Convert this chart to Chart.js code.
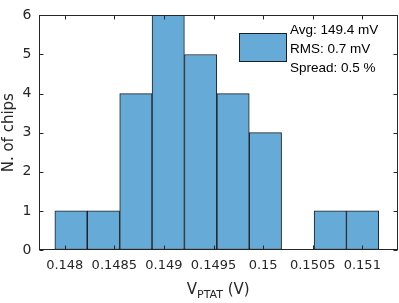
<!DOCTYPE html>
<html>
<head>
<meta charset="utf-8">
<script src="https://cdn.jsdelivr.net/npm/chart.js@4"></script>
<style>
  html, body { margin: 0; padding: 0; background: #fff; }
  #wrap { width: 399px; height: 303px; }
</style>
</head>
<body>
<div id="wrap"><canvas id="myChart" width="399" height="303"></canvas></div>
<script>
// histogram data
const binCenters = [0.148063, 0.148390, 0.148717, 0.149043, 0.149370, 0.149697, 0.150023, 0.150350, 0.150677, 0.151003];
const counts = [1, 1, 4, 6, 5, 4, 3, 0, 1, 1];
const xTicks = [0.148, 0.1485, 0.149, 0.1495, 0.15, 0.1505, 0.151];
const yTicks = [0, 1, 2, 3, 4, 5, 6];
const legendLines = ['Avg: 149.4 mV', 'RMS: 0.7 mV', 'Spread: 0.5 %'];

const axisColor = '#262626';
const barFill = 'rgb(102,170,215)';
const barEdge = '#1e1e1e';

// box round the axes + inward ticks (matlab style)
const frame = {
  id: 'frame',
  afterDatasetsDraw(chart) {
    const { ctx, chartArea: a, scales } = chart;
    const l = Math.round(a.left) + 0.5, r = Math.round(a.right) - 0.5;
    const t = Math.round(a.top) + 0.5, b = Math.round(a.bottom) - 0.5;
    const len = 4;
    ctx.save();
    ctx.strokeStyle = axisColor;
    ctx.lineWidth = 1;
    ctx.strokeRect(l, t, r - l, b - t);
    ctx.beginPath();
    xTicks.forEach(v => {
      const x = Math.round(scales.x.getPixelForValue(v)) + 0.5;
      ctx.moveTo(x, b); ctx.lineTo(x, b - len);
      ctx.moveTo(x, t); ctx.lineTo(x, t + len);
    });
    yTicks.forEach(v => {
      const y = Math.round(scales.y.getPixelForValue(v)) + 0.5;
      ctx.moveTo(l, y); ctx.lineTo(l + len, y);
      ctx.moveTo(r, y); ctx.lineTo(r - len, y);
    });
    ctx.stroke();
    ctx.restore();
  },
  afterDraw(chart) {
    const { ctx, chartArea: a } = chart;
    ctx.save();
    // x title with subscript
    ctx.fillStyle = axisColor;
    ctx.textBaseline = 'alphabetic';
    const big = '15px "DejaVu Sans"', small = '11px "DejaVu Sans"';
    ctx.font = big; const w1 = ctx.measureText('V').width;
    ctx.font = small; const w2 = ctx.measureText('PTAT').width;
    ctx.font = big; const w3 = ctx.measureText(' (V)').width;
    let x = (a.left + a.right) / 2 - (w1 + w2 + w3) / 2;
    const base = 294;
    ctx.font = big; ctx.fillText('V', x, base); x += w1;
    ctx.font = small; ctx.fillText('PTAT', x, base + 4); x += w2;
    ctx.font = big; ctx.fillText(' (V)', x, base);

    // legend box
    ctx.fillStyle = barFill;
    ctx.fillRect(239.5, 33.5, 47, 28);
    ctx.strokeStyle = barEdge;
    ctx.lineWidth = 1;
    ctx.strokeRect(239.5, 33.5, 47, 28);
    ctx.fillStyle = '#000';
    ctx.font = '13.5px "Liberation Sans"';
    ctx.textBaseline = 'middle';
    legendLines.forEach((s, i) => ctx.fillText(s, 290, 30 + i * 19));
    ctx.restore();
  }
};

const ctx = document.getElementById('myChart').getContext('2d');
const myChart = new Chart(ctx, {
  type: 'bar',
  data: {
    datasets: [{
      data: binCenters.map((c, i) => ({ x: c, y: counts[i] })),
      backgroundColor: barFill,
      borderColor: barEdge,
      borderWidth: 1,
      barPercentage: 1,
      categoryPercentage: 1,
      borderSkipped: false
    }]
  },
  options: {
    responsive: false,
    animation: false,
    layout: { padding: { top: 5, right: 1, left: 0, bottom: 0 } },
    plugins: { legend: { display: false }, tooltip: { enabled: false } },
    scales: {
      x: {
        type: 'linear',
        offset: false,
        min: 0.147735,
        max: 0.15136,
        grid: { drawOnChartArea: false, drawTicks: false, offset: false },
        border: { display: false },
        afterBuildTicks: s => { s.ticks = xTicks.map(v => ({ value: v })); },
        afterFit: s => { s.height = 53; },
        ticks: {
          color: axisColor,
          padding: 8,
          maxRotation: 0,
          font: { family: 'DejaVu Sans', size: 13 },
          callback: v => String(v)
        }
      },
      y: {
        min: 0,
        max: 6,
        grid: { drawOnChartArea: false, drawTicks: false },
        border: { display: false },
        afterBuildTicks: s => { s.ticks = yTicks.map(v => ({ value: v })); },
        afterFit: s => { s.width = 38.5; },
        title: {
          display: true,
          text: 'N. of chips',
          color: axisColor,
          padding: 0,
          font: { family: 'DejaVu Sans', size: 15 }
        },
        ticks: {
          color: axisColor,
          padding: 7,
          font: { family: 'DejaVu Sans', size: 14 }
        }
      }
    }
  },
  plugins: [frame]
});
</script>
</body>
</html>
